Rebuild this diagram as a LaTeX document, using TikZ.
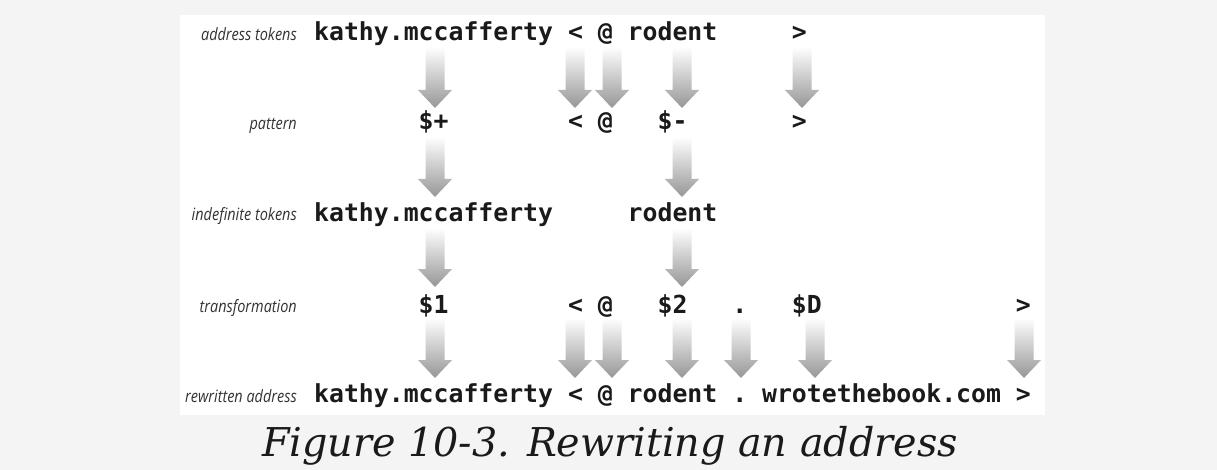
\documentclass[tikz,border=0pt]{standalone}
\usepackage{fontspec}
\setmainfont{DejaVu Serif}
\newfontfamily\tokfont{DejaVu Sans Mono}
\newfontfamily\labfont[FakeStretch=0.85]{Open Sans}
\definecolor{bgcol}{HTML}{F4F4F4}
\definecolor{arrowgray}{HTML}{969696}
\definecolor{labcol}{HTML}{333333}
\definecolor{tokcol}{HTML}{1A1A1A}
\tikzset{
  tok/.style={font=\tokfont\bfseries\fontsize{24.8}{26}\selectfont, anchor=base west, inner sep=0pt, text=tokcol},
  lab/.style={font=\labfont\itshape\fontsize{17}{19}\selectfont, anchor=base east, inner sep=0pt, text=labcol},
  garrow/.style={top color=white, bottom color=arrowgray, draw=none}
}
\newcommand\colx[1]{{314+14.93*#1}}
\newcommand\garrow[3]{%
  \shade[garrow] ({#1-9.5},#2) -- ({#1+9.5},#2) -- ({#1+9.5},{#3-18}) -- ({#1+17},{#3-18})
    -- (#1,#3) -- ({#1-17},{#3-18}) -- ({#1-9.5},{#3-18}) -- cycle;}
\begin{document}
\begin{tikzpicture}[x=1pt,y=-1pt]
\fill[bgcol] (0,0) rectangle (1217,470);
\fill[white] (180,15) rectangle (1045,415);
\useasboundingbox (0,0) rectangle (1217,470);

% labels
\node[lab] (l1) at (297,41) {address tokens};
\node[lab] (l2) at (297,130) {pattern};
\node[lab] (l3) at (297,221) {indefinite tokens};
\node[lab] (l4) at (297,312) {transformation};
\node[lab] (l5) at (297,402) {rewritten address};

% row 1
\node[tok] (a1) at (\colx{0},41) {kathy.mccafferty};
\node[tok] (a2) at (\colx{17},41) {<};
\node[tok] (a3) at (\colx{19},41) {@};
\node[tok] (a4) at (\colx{21},41) {rodent};
\node[tok] (a5) at (\colx{32},41) {>};
% row 2
\node[tok] (p1) at (\colx{7},130) {\$+};
\node[tok] (p2) at (\colx{17},130) {<};
\node[tok] (p3) at (\colx{19},130) {@};
\node[tok] (p4) at (\colx{23},130) {\$-};
\node[tok] (p5) at (\colx{32},130) {>};
% row 3
\node[tok] (i1) at (\colx{0},222) {kathy.mccafferty};
\node[tok] (i2) at (\colx{21},222) {rodent};
% row 4
\node[tok] (t1) at (\colx{7},313) {\$1};
\node[tok] (t2) at (\colx{17},313) {<};
\node[tok] (t3) at (\colx{19},313) {@};
\node[tok] (t4) at (\colx{23},313) {\$2};
\node[tok] (t5) at (\colx{28},313) {.};
\node[tok] (t6) at (\colx{32},313) {\$D};
\node[tok] (t7) at (\colx{47},313) {>};
% row 5
\node[tok] (r1) at (\colx{0},402) {kathy.mccafferty};
\node[tok] (r2) at (\colx{17},402) {<};
\node[tok] (r3) at (\colx{19},402) {@};
\node[tok] (r4) at (\colx{21},402) {rodent};
\node[tok] (r5) at (\colx{28},402) {.};
\node[tok] (r6) at (\colx{30},402) {wrotethebook.com};
\node[tok] (r7) at (\colx{47},402) {>};

% arrows row1 -> row2
\garrow{435}{47}{108}
\garrow{575}{47}{108}
\garrow{612}{47}{108}
\garrow{682}{47}{108}
\garrow{802}{47}{108}
% row2 -> row3
\garrow{435}{137}{197}
\garrow{682}{137}{197}
% row3 -> row4
\garrow{435}{228}{287}
\garrow{682}{228}{287}
% row4 -> row5
\garrow{435}{318}{378}
\garrow{575}{318}{378}
\garrow{612}{318}{378}
\garrow{682}{318}{378}
\garrow{741}{318}{378}
\garrow{815}{318}{378}
\garrow{1024}{318}{378}

% caption
\node[font=\itshape\fontsize{39.7}{44}\selectfont, anchor=base, inner sep=0pt, text=tokcol] (cap) at (610,456) {Figure 10-3. Rewriting an address};
\end{tikzpicture}
\end{document}
